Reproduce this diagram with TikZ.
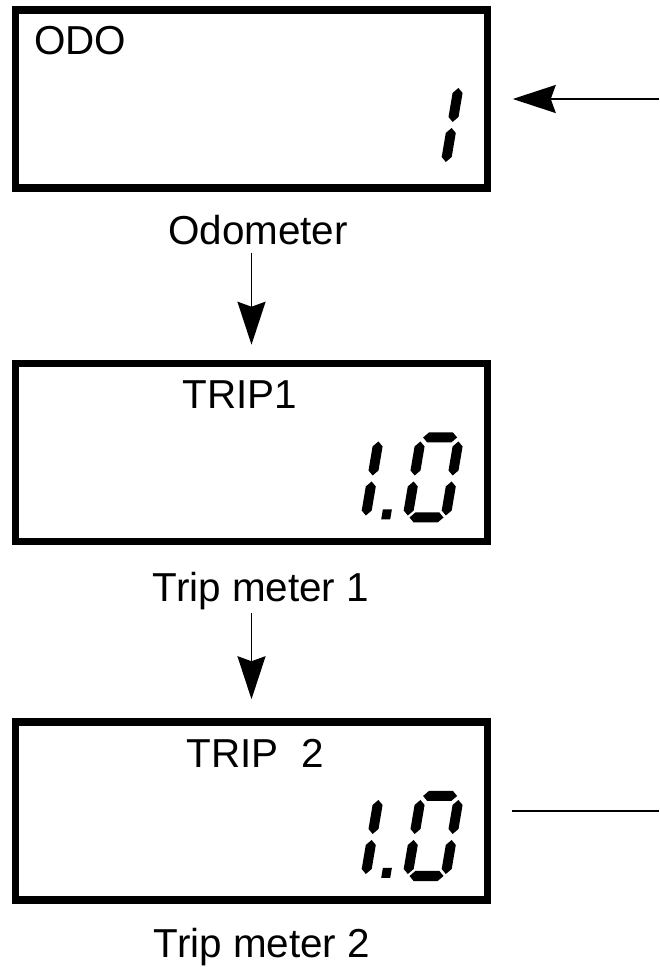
\documentclass[tikz,border=0pt]{standalone}
\usepackage{fontspec}
\setmainfont{Liberation Sans}
\usetikzlibrary{arrows.meta}

% one segment of the LCD digits (local units, unslanted)
\newcommand{\hseg}[1]{\fill (2,#1) -- (7,#1+5) -- (31,#1+5) -- (36,#1) -- (31,#1-5) -- (7,#1-5) -- cycle;}
\newcommand{\vseg}[2]{\fill (#1,#2+2) -- (#1+5,#2+7) -- (#1+5,#2+31) -- (#1,#2+36) -- (#1-5,#2+31) -- (#1-5,#2+7) -- cycle;}

\tikzset{
  lcdbox/.style={draw, line width=0.15cm, minimum width=9.44cm, minimum height=3.56cm},
  lcdtext/.style={inner sep=0pt, anchor=base},
  flowarrow/.style={line width=1pt, -{Stealth[length=0.86cm, width=0.56cm, inset=0.1cm]}},
  lcdcell/.style={x=0.02cm, y=0.02cm, xslant=0.17}
}

\begin{document}
\begin{tikzpicture}
                    \useasboundingbox (0,0) rectangle (13.18,19.34);
                    {\fontsize{23}{27}\selectfont

                    % Drawing display boxes
                    \node [lcdbox] (odo) at (5.03,17.36) {};%
                    \node [lcdbox] (trip1) at (5.03,10.29) {};%
                    \node [lcdbox] (trip2) at (5.03,3.12) {};%

                    % Marking display titles
                    \node [lcdtext, anchor=base west] (odotitle) at (0.68,18.24) {ODO};%
                    \node [lcdtext] (trip1title) at (4.80,11.16) {TRIP1};%
                    \node [lcdtext] (trip2title) at (5.10,3.98) {TRIP\ \ 2};%

                    % Marking captions
                    \node [lcdtext] (odolabel) at (5.16,14.44) {Odometer};%
                    \node [lcdtext] (trip1label) at (5.22,7.30) {Trip meter 1};%
                    \node [lcdtext] (trip2label) at (5.24,0.20) {Trip meter 2};%
                    }

                    % Drawing digit 1 of ODO
                    \begin{scope}[shift={(odo.center)}, shift={(3.12cm,-1.30cm)}, lcdcell]
                      \vseg{38}{0} \vseg{38}{40}
                    \end{scope}

                    % Drawing digits 1.0 of TRIP1
                    \begin{scope}[shift={(trip1.center)}, shift={(1.52cm,-1.30cm)}, lcdcell]
                      \vseg{38}{0} \vseg{38}{40}
                      \fill (54,-2) rectangle (63,8);
                    \end{scope}
                    \begin{scope}[shift={(trip1.center)}, shift={(3.12cm,-1.30cm)}, lcdcell]
                      \hseg{0} \hseg{80} \vseg{0}{0} \vseg{0}{40} \vseg{38}{0} \vseg{38}{40}
                    \end{scope}

                    % Drawing digits 1.0 of TRIP 2
                    \begin{scope}[shift={(trip2.center)}, shift={(1.52cm,-1.30cm)}, lcdcell]
                      \vseg{38}{0} \vseg{38}{40}
                      \fill (54,-2) rectangle (63,8);
                    \end{scope}
                    \begin{scope}[shift={(trip2.center)}, shift={(3.12cm,-1.30cm)}, lcdcell]
                      \hseg{0} \hseg{80} \vseg{0}{0} \vseg{0}{40} \vseg{38}{0} \vseg{38}{40}
                    \end{scope}

                    % Drawing arrows between displays
                    \draw [flowarrow, shorten <=0.14cm, shorten >=0.30cm] (odolabel.south -| trip1.north) -- (trip1.north);%
                    \draw [flowarrow, shorten <=0.05cm, shorten >=0.38cm] (trip1label.south -| trip2.north) -- (trip2.north);%

                    % Drawing side connectors
                    \coordinate (odoin) at (13.18,17.36);
                    \coordinate (trip2out) at (13.18,3.12);
                    \draw [flowarrow, shorten >=0.43cm] (odoin) -- (odo.east);%
                    \draw [line width=1pt, shorten <=0.42cm] (trip2.east) -- (trip2out);%
\end{tikzpicture}
\end{document}
